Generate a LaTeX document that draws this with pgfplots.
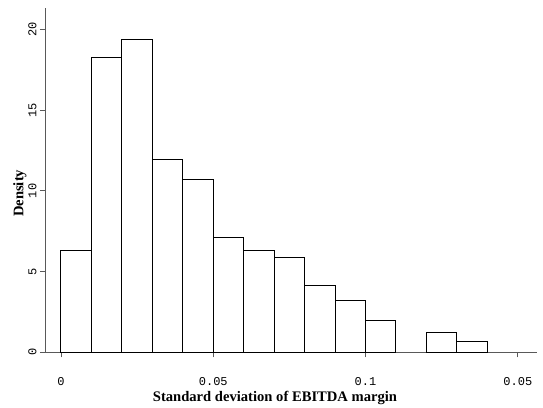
\documentclass[border=0pt]{standalone}
\usepackage{fontspec}
\setmainfont{Liberation Serif}
\newfontfamily\tickfont{Liberation Mono}
\usepackage{pgfplots}
\pgfplotsset{compat=1.18}

\begin{document}
\begin{tikzpicture}[x=1pt,y=1pt]
\begin{axis}[
  at={(0,0)}, anchor=south west,
  scale only axis, width=492pt, height=344.3pt,
  xmin=-0.00525, xmax=0.1563, ymin=0, ymax=21.32,
  axis x line*=bottom, axis y line*=left,
  axis line style={-, draw=black!65, line width=0.7pt},
  tick align=outside, major tick length=5pt,
  tick style={draw=black!65, line width=0.7pt},
  xtick={0,0.05,0.1,0.15},
  xticklabels={0,0.05,0.1,0.05},
  ytick={0,5,10,15,20},
  yticklabels={0,5,10,15,20},
  xticklabel style={font=\tickfont\fontsize{12}{13}\selectfont, yshift=-17pt},
  yticklabel style={font=\tickfont\fontsize{12}{13}\selectfont, rotate=90, anchor=south},
  xlabel={Standard deviation of EBITDA margin},
  xlabel style={font=\fontsize{14.6}{16}\selectfont\bfseries,
    at={(axis description cs:0.4675,-0.132)}, anchor=center},
  clip=false,
]
% density of each 0.01-wide bin
\addplot[ybar interval, fill=white, draw=black, line width=1pt] coordinates {
  (0.00,6.33) (0.01,18.24) (0.02,19.38) (0.03,11.91) (0.04,10.67)
  (0.05,7.10) (0.06,6.33) (0.07,5.84) (0.08,4.15) (0.09,3.19)
  (0.10,1.96) (0.11,0)
};
% bins beyond the empty 0.11--0.12 interval
\addplot[ybar interval, fill=white, draw=black, line width=1pt] coordinates {
  (0.12,1.21) (0.13,0.66) (0.14,0)
};
\end{axis}
% vertical axis title
\node[rotate=90, font=\fontsize{14.6}{16}\selectfont\bfseries] at (-25pt,159pt) {Density};
\pgfresetboundingbox
\path (-45pt,-54.7pt) rectangle (498pt,352.3pt);
\end{tikzpicture}
\end{document}
